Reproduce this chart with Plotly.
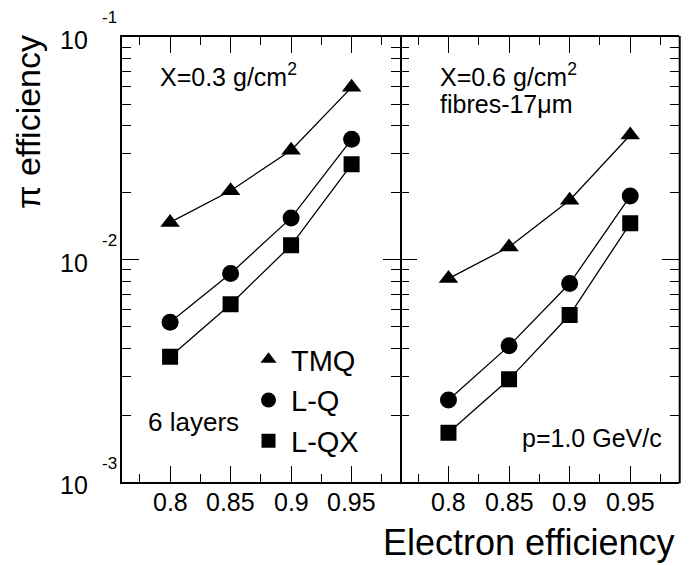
import math
import plotly.graph_objects as go

# electron efficiency points
e_eff = [0.8, 0.85, 0.9, 0.95]

# pion efficiency, left panel (X=0.3 g/cm2)
left_tmq = [0.0147, 0.0204, 0.0310, 0.0594]
left_lq = [0.00524, 0.00867, 0.0154, 0.0347]
left_lqx = [0.00366, 0.00631, 0.0116, 0.0268]

# pion efficiency, right panel (X=0.6 g/cm2, fibres)
right_tmq = [0.00822, 0.0114, 0.0185, 0.0363]
right_lq = [0.00234, 0.0041, 0.00781, 0.0193]
right_lqx = [0.00167, 0.0029, 0.00564, 0.01456]

series_names = ["TMQ", "L-Q", "L-QX"]
series_symbols = ["triangle-up", "circle", "square"]
series_sizes = [17, 17, 16]
legend_sizes = [14, 15, 14]

x_tick_vals = [0.8, 0.85, 0.9, 0.95]
x_tick_text = ["0.8", "0.85", "0.9", "0.95"]
y_tick_vals = [0.1, 0.01, 0.001]
y_tick_exp = ["-1", "-2", "-3"]

# page body has an 8px margin, so the figure is a bit smaller than the window
OFF = 8
W, H = 692 - OFF, 566 - OFF
FONT = "Liberation Sans, Arial, sans-serif"


def px(x):
    return (x - OFF) / W


def py(y):
    return 1 - (y - OFF) / H


fig = go.Figure()

panels = [("x", "y", [left_tmq, left_lq, left_lqx]),
          ("x2", "y2", [right_tmq, right_lq, right_lqx])]

for xa, ya, data in panels:
    for name, sym, size, vals in zip(series_names, series_symbols, series_sizes, data):
        fig.add_trace(go.Scatter(
            x=e_eff, y=vals, xaxis=xa, yaxis=ya,
            mode="lines+markers", name=name, showlegend=False,
            line=dict(color="black", width=1.3),
            marker=dict(symbol=sym, size=size, color="black")
        ))

# legend-only entries (markers without line)
for name, sym, size in zip(series_names, series_symbols, legend_sizes):
    fig.add_trace(go.Scatter(
        x=[None], y=[None], mode="markers", name=name,
        legendgroup=name,
        marker=dict(symbol=sym, size=size, color="black")
    ))

xaxis_common = dict(
    range=[0.76, 0.99], tickmode="array", tickvals=x_tick_vals,
    showticklabels=False,
    ticks="inside", ticklen=16, tickwidth=1, tickcolor="black",
    minor=dict(ticks="inside", ticklen=8, dtick=0.025, tick0=0.8, tickcolor="black", showgrid=False),
    showline=True, linewidth=2, linecolor="black", mirror="ticks",
    showgrid=False, zeroline=False,
)

minor_y = [m * 10 ** e for e in (-3, -2) for m in range(2, 10)]
yaxis_common = dict(
    type="log", range=[-3, -1], tickmode="array", tickvals=y_tick_vals,
    showticklabels=False,
    ticks="inside", ticklen=17, tickwidth=1, tickcolor="black",
    minor=dict(ticks="inside", ticklen=9, tickmode="array", tickvals=minor_y,
               tickcolor="black", showgrid=False),
    linewidth=2, linecolor="black", mirror="ticks",
    showgrid=False, zeroline=False,
    domain=[py(482.3), py(37)],
)

fig.update_layout(
    width=W, height=H,
    margin=dict(l=0, r=0, t=0, b=0),
    paper_bgcolor="white", plot_bgcolor="white",
    font=dict(family=FONT, color="black"),
    xaxis=dict(domain=[px(121.7), px(400)], anchor="y", **xaxis_common),
    xaxis2=dict(domain=[px(400), px(678.7)], anchor="y2", **xaxis_common),
    # left panel draws the outer left edge and the shared middle line
    yaxis=dict(anchor="x", showline=True, **yaxis_common),
    yaxis2=dict(anchor="x2", matches="y", showline=False, **yaxis_common),
    legend=dict(
        x=px(246), y=py(334), xanchor="left", yanchor="top",
        bgcolor="rgba(0,0,0,0)", borderwidth=0,
        font=dict(family=FONT, size=29, color="black"),
        tracegroupgap=0, itemsizing="trace", itemwidth=35,
    ),
    showlegend=True,
)

# right edge of the right panel
fig.add_shape(type="line", xref="paper", yref="paper",
              x0=px(678.7) + 1 / W, x1=px(678.7) + 1 / W,
              y0=py(482.3) - 1 / H, y1=py(37) + 1 / H,
              line=dict(color="black", width=2))

# x tick labels, placed through each panel's x axis
for xa in ("x", "x2"):
    for val, lab in zip(x_tick_vals, x_tick_text):
        fig.add_annotation(x=val, y=py(502), xref=xa, yref="paper", text=lab,
                           showarrow=False, xanchor="center", yanchor="middle",
                           font=dict(family=FONT, size=25, color="black"))

# y tick labels as 10 with raised exponent
for val, ex in zip(y_tick_vals, y_tick_exp):
    fig.add_annotation(x=px(90), y=math.log10(val),
                       xref="paper", yref="y", text="10", showarrow=False,
                       xanchor="right", yanchor="middle", yshift=-3,
                       font=dict(family=FONT, size=25, color="black"))
    fig.add_annotation(x=px(100), y=math.log10(val),
                       xref="paper", yref="y", text=ex, showarrow=False,
                       xanchor="left", yanchor="middle", yshift=19,
                       font=dict(family=FONT, size=17, color="black"))

texts = [
    ("X=0.3 g/cm<sup>2</sup>", 158, 75, "left", 25),
    ("X=0.6 g/cm<sup>2</sup>", 438, 75, "left", 25),
    ("fibres-17\u03bcm", 438, 104, "left", 25),
    ("6 layers", 146, 422, "left", 26),
    ("p=1.0 GeV/c", 664, 438, "right", 25),
]
for t, x, y, xa, fs in texts:
    fig.add_annotation(x=px(x), y=py(y), xref="paper", yref="paper", text=t,
                       showarrow=False, xanchor=xa, yanchor="middle",
                       font=dict(family=FONT, size=fs, color="black"))

# axis titles
fig.add_annotation(x=px(676), y=py(542), xref="paper", yref="paper",
                   text="Electron efficiency", showarrow=False,
                   xanchor="right", yanchor="middle",
                   font=dict(family=FONT, size=36, color="black"))
fig.add_annotation(x=px(28), y=py(33), xref="paper", yref="paper",
                   text="\u03c0 efficiency", showarrow=False, textangle=-90,
                   xanchor="center", yanchor="top",
                   font=dict(family=FONT, size=34, color="black"))

fig.write_html("out.html")
